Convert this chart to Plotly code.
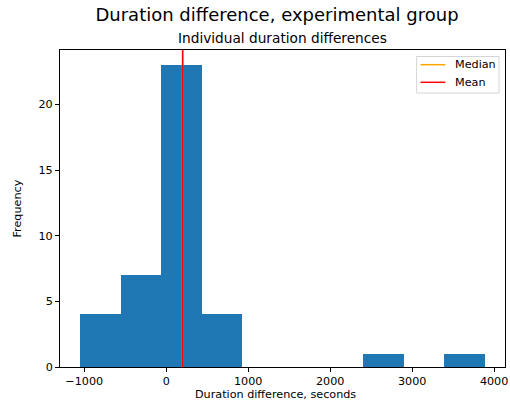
import plotly.graph_objects as go

# Histogram data (bin edges and counts)
bin_edges = [-1049, -555.5, -62, 431.5, 925, 1418.5, 1912, 2405.5, 2899, 3392.5, 3886]
counts = [4, 7, 23, 4, 0, 0, 0, 1, 0, 1]
median_value = 199
mean_value = 201

x_ticks = [-1000, 0, 1000, 2000, 3000, 4000]
y_ticks = [0, 5, 10, 15, 20]
legend_labels = ["Median", "Mean"]
legend_colors = ["orange", "red"]

centers = [(a + b) / 2 for a, b in zip(bin_edges[:-1], bin_edges[1:])]
widths = [b - a for a, b in zip(bin_edges[:-1], bin_edges[1:])]

font_family = "DejaVu Sans"
FS = 11.2

# plot area in pixels (for the hand-placed legend box)
L, R, T, B = 60, 508, 50, 367
def px(x):
    return (x - L) / (R - L)
def py(y):
    return (B - y) / (B - T)

fig = go.Figure()
fig.add_trace(go.Bar(x=centers, y=counts, width=widths, marker=dict(color="#1f77b4", line=dict(width=0)),
                     showlegend=False, hoverinfo="x+y"))
ymax = max(counts) * 1.05
fig.add_trace(go.Scatter(x=[median_value, median_value], y=[0, ymax], mode="lines",
                         line=dict(color=legend_colors[0], width=1.5), name=legend_labels[0], showlegend=False))
fig.add_trace(go.Scatter(x=[mean_value, mean_value], y=[0, ymax], mode="lines",
                         line=dict(color=legend_colors[1], width=1.5), name=legend_labels[1], showlegend=False))

span = bin_edges[-1] - bin_edges[0]

shapes = [
    dict(type="rect", xref="paper", yref="paper", x0=px(419), x1=px(502), y0=py(93), y1=py(56.5),
         line=dict(color="#d5d5d5", width=1), fillcolor="rgba(255,255,255,0.8)", layer="above"),
]
annotations = [
    dict(text="Individual duration differences", xref="paper", yref="paper", x=0.5, y=1,
         xanchor="center", yanchor="bottom", yshift=2, showarrow=False,
         font=dict(size=13.7, family=font_family, color="black")),
    dict(text="Duration difference, seconds", xref="paper", yref="paper", x=px(277), y=0,
         xanchor="center", yanchor="top", yshift=-18.5, showarrow=False,
         font=dict(size=FS, family=font_family, color="black")),
    dict(text="Frequency", xref="paper", yref="paper", x=0, y=0.5, xanchor="center",
         yanchor="middle", xshift=-43, textangle=-90, showarrow=False,
         font=dict(size=FS, family=font_family, color="black")),
]
for i, (lab, col) in enumerate(zip(legend_labels, legend_colors)):
    yy = 64.7 + i * 17.6
    shapes.append(dict(type="line", xref="paper", yref="paper", x0=px(423), x1=px(448), y0=py(yy), y1=py(yy),
                       line=dict(color=col, width=1.5), layer="above"))
    annotations.append(dict(text=lab, xref="paper", yref="paper", x=px(455.5), y=py(yy), xanchor="left",
                            yanchor="middle", showarrow=False,
                            font=dict(size=FS, family=font_family, color="black")))

fig.update_layout(
    width=510, height=405,
    margin=dict(l=L, r=510 - R, t=T, b=405 - B),
    paper_bgcolor="white", plot_bgcolor="white",
    font=dict(family=font_family, size=FS, color="black"),
    bargap=0,
    showlegend=False,
    title=dict(text="Duration difference, experimental group", x=277 / 510, xanchor="center",
               y=1 - 15 / 405, yanchor="middle", yref="container", xref="container",
               font=dict(size=18, family=font_family, color="black")),
    xaxis=dict(range=[bin_edges[0] - 0.05 * span, bin_edges[-1] + 0.05 * span],
               tickvals=x_ticks, ticktext=[str(v).replace("-", "\u2212") for v in x_ticks],
               ticklabeloverflow="allow",
               showgrid=False, zeroline=False, showline=True, linecolor="black", linewidth=1,
               mirror=True, ticks="outside", ticklen=4, tickcolor="black"),
    yaxis=dict(range=[0, ymax], tickvals=y_ticks, showgrid=False, zeroline=False,
               showline=True, linecolor="black", linewidth=1, mirror=True,
               ticks="outside", ticklen=4, tickcolor="black"),
    shapes=shapes,
    annotations=annotations,
)

fig.write_html("out.html")
